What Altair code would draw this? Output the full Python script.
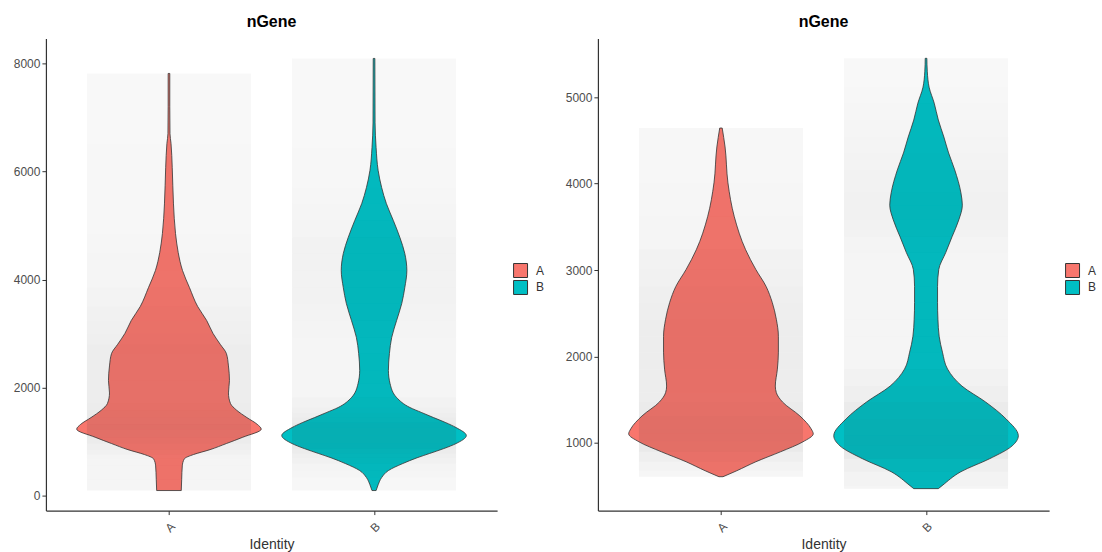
import altair as alt
import pandas as pd

IDENTS = ["A", "B"]
IDENT_COLORS = ["#F8766D", "#00BFC4"]
IDENT_POS = {"A": 1, "B": 2}

# Violin outlines: nGene level and half-width (in x units, widest = 0.45)
left_a_values = [93, 300, 550, 680, 760, 850, 963, 1080, 1230, 1320, 1444, 1580, 1704, 1900,
                 2130, 2400, 2630, 2800, 3000, 3240, 3500, 3850, 4167, 4500, 4850, 5400,
                 6070, 6520, 6700, 7200, 7815]
left_a_widths = [0.060, 0.062, 0.065, 0.075, 0.12, 0.20, 0.28, 0.36, 0.45, 0.43, 0.38, 0.33,
                 0.30, 0.29, 0.295, 0.29, 0.28, 0.25, 0.215, 0.184, 0.14, 0.10, 0.066, 0.045,
                 0.032, 0.022, 0.016, 0.010, 0.005, 0.004, 0.004]

left_b_values = [93, 200, 333, 463, 593, 700, 778, 870, 963, 1111, 1259, 1350, 1444, 1540,
                 1630, 1815, 2074, 2315, 2630, 2926, 3240, 3555, 3850, 4167, 4481, 4778,
                 5093, 5407, 5704, 6019, 6444, 6900, 8093]
left_b_widths = [0.01, 0.02, 0.037, 0.07, 0.14, 0.21, 0.27, 0.34, 0.40, 0.45, 0.40, 0.35,
                 0.29, 0.23, 0.175, 0.11, 0.078, 0.07, 0.075, 0.086, 0.11, 0.135, 0.15, 0.16,
                 0.15, 0.126, 0.094, 0.06, 0.037, 0.02, 0.01, 0.005, 0.004]

right_a_values = [608, 677, 781, 896, 1012, 1104, 1161, 1311, 1473, 1580, 1657, 1853, 2049,
                  2233, 2430, 2625, 2810, 3006, 3236, 3617, 4009, 4424, 4643]
right_a_widths = [0.01, 0.077, 0.17, 0.29, 0.40, 0.45, 0.44, 0.385, 0.30, 0.27, 0.265, 0.275,
                  0.28, 0.28, 0.27, 0.25, 0.22, 0.17, 0.12, 0.065, 0.034, 0.02, 0.006]

right_b_values = [470, 504, 666, 816, 965, 1081, 1277, 1473, 1657, 1853, 2049, 2233, 2430,
                  2625, 2810, 3006, 3202, 3386, 3582, 3750, 3893, 4158, 4355, 4539, 4735,
                  4930, 5115, 5300, 5450]
right_b_widths = [0.06, 0.078, 0.17, 0.31, 0.42, 0.45, 0.39, 0.29, 0.175, 0.105, 0.08, 0.064,
                  0.058, 0.056, 0.056, 0.062, 0.096, 0.127, 0.16, 0.177, 0.17, 0.14, 0.11,
                  0.087, 0.06, 0.04, 0.015, 0.006, 0.004]

left_y_domain = [-278, 8463]
left_y_ticks = [0, 2000, 4000, 6000, 8000]
right_y_domain = [216, 5680]
right_y_ticks = [1000, 2000, 3000, 4000, 5000]

JITTER = 0.4


def violin_frame(pairs):
    rows = []
    for ident, values, widths in pairs:
        for i, (v, w) in enumerate(zip(values, widths)):
            nxt = values[i + 1] if i + 1 < len(values) else v
            wn = widths[i + 1] if i + 1 < len(widths) else w
            rows.append({"ident": ident, "pos": IDENT_POS[ident], "value": v, "half": w,
                         "value_next": nxt, "half_mean": (w + wn) / 2, "last": i + 1 == len(values)})
    return pd.DataFrame(rows)


def panel(df, y_domain, y_ticks):
    base = alt.Chart(df)
    x_scale = alt.Scale(domain=[0.4, 2.6], nice=False, zero=False)
    y_scale = alt.Scale(domain=y_domain, nice=False, zero=False)
    x_axis = alt.Axis(values=[1, 2], labelExpr="datum.value == 1 ? 'A' : 'B'",
                      labelAngle=-45, labelPadding=6, title="Identity", titlePadding=4,
                      grid=False)
    y_axis = alt.Axis(values=y_ticks, format="d", title=None, grid=False)

    violins = base.mark_area(orient="horizontal", interpolate="monotone",
                             stroke="#333333", strokeWidth=0.8).transform_calculate(
        lo="datum.pos - datum.half", hi="datum.pos + datum.half"
    ).encode(
        y=alt.Y("value:Q", scale=y_scale, axis=y_axis),
        x=alt.X("lo:Q", scale=x_scale, axis=x_axis),
        x2="hi:Q",
        color=alt.Color("ident:N", scale=alt.Scale(domain=IDENTS, range=IDENT_COLORS),
                        legend=alt.Legend(title=None, orient="none", legendX=468, legendY=225,
                                          symbolType="square", symbolSize=196,
                                          symbolStrokeColor="#333333", symbolStrokeWidth=1,
                                          symbolOpacity=1, rowPadding=-4, labelFontSize=12,
                                          labelColor="#333333", labelOffset=8)),
    )

    # jittered cells, drawn as a haze whose density follows the violin width
    cloud = base.transform_filter("!datum.last").transform_calculate(
        jl=f"datum.pos - {JITTER}", jr=f"datum.pos + {JITTER}"
    ).mark_rect(color="#333333").encode(
        y=alt.Y("value:Q", scale=y_scale),
        y2="value_next:Q",
        x=alt.X("jl:Q", scale=x_scale),
        x2="jr:Q",
        opacity=alt.Opacity("half_mean:Q", scale=alt.Scale(domain=[0, 0.45], range=[0.035, 0.12]),
                            legend=None),
    )

    return alt.layer(violins, cloud).properties(
        width=452, height=473,
        title=alt.TitleParams("nGene", fontSize=16, fontWeight="bold", anchor="middle",
                              frame="group", offset=8, color="#000000"),
    )


left_df = violin_frame([("A", left_a_values, left_a_widths), ("B", left_b_values, left_b_widths)])
right_df = violin_frame([("A", right_a_values, right_a_widths), ("B", right_b_values, right_b_widths)])

chart = alt.hconcat(
    panel(left_df, left_y_domain, left_y_ticks),
    panel(right_df, right_y_domain, right_y_ticks),
    spacing=20,
).resolve_scale(color="independent", opacity="independent").properties(
    padding={"left": 13, "top": 14, "right": 5, "bottom": 5},
).configure_view(stroke=None).configure_axis(
    labelFont="Liberation Sans", labelFontSize=12, labelColor="#4d4d4d",
    titleFont="Liberation Sans", titleFontSize=14, titleFontWeight="normal", titleColor="#333333",
    domainColor="#333333", domainWidth=1.2, tickColor="#333333", tickSize=4, labelPadding=2,
).configure_legend(labelFont="Liberation Sans").configure_title(font="Liberation Sans")

chart.save("out.html", embed_options={"renderer": "svg", "actions": False})
